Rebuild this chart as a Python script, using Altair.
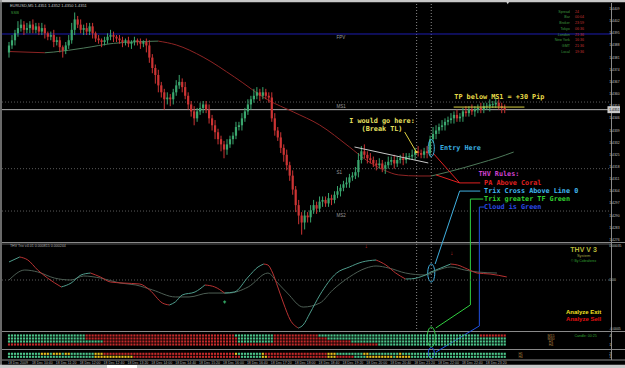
import altair as alt
import pandas as pd

# ============================ DATA ============================
first_open = 1.4384
closes = [
    1.4388, 1.4391, 1.4395, 1.4398, 1.4400, 1.4397, 1.4398, 1.4400, 1.4397, 1.4399,
    1.4396, 1.4398, 1.4395, 1.4393, 1.4394, 1.4390, 1.4391, 1.4387, 1.4385, 1.4388,
    1.4391, 1.4397, 1.4403, 1.4400, 1.4397, 1.4398, 1.4396, 1.4399, 1.4395, 1.4392,
    1.4391, 1.4390, 1.4391, 1.4393, 1.4394, 1.4393, 1.4392, 1.4391, 1.4390, 1.4391,
    1.4389, 1.4390, 1.4391, 1.4390, 1.4389, 1.4390, 1.4388, 1.4381, 1.4375, 1.4371,
    1.4365, 1.4361, 1.4357, 1.4358, 1.4357, 1.4361, 1.4365, 1.4367, 1.4364, 1.4359,
    1.4354, 1.4350, 1.4346, 1.4350, 1.4352, 1.4354, 1.4351, 1.4346, 1.4342, 1.4338,
    1.4334, 1.4331, 1.4328, 1.4331, 1.4334, 1.4336, 1.4341, 1.4342, 1.4346, 1.4350,
    1.4354, 1.4357, 1.4359, 1.4361, 1.4359, 1.4361, 1.4359, 1.4358, 1.4346, 1.4339,
    1.4335, 1.4329, 1.4325, 1.4319, 1.4313, 1.4305, 1.4296, 1.4290, 1.4286, 1.4290,
    1.4289, 1.4293, 1.4296, 1.4294, 1.4298, 1.4299, 1.4297, 1.4300, 1.4299, 1.4302,
    1.4304, 1.4306, 1.4308, 1.4309, 1.4312, 1.4313, 1.4315, 1.4322, 1.4327, 1.4325,
    1.4323, 1.4322, 1.4320, 1.4319, 1.4320, 1.4317, 1.4319, 1.4321, 1.4322, 1.4320,
    1.4322, 1.4323, 1.4322, 1.4324, 1.4324, 1.4325, 1.4327, 1.4326, 1.4325, 1.4327,
    1.4326, 1.4334, 1.4337, 1.4339, 1.4341, 1.4342, 1.4344, 1.4345, 1.4346, 1.4348,
    1.4346, 1.4347, 1.4350, 1.4349, 1.4351, 1.4350, 1.4351, 1.4352, 1.4351, 1.4353,
    1.4353, 1.4354, 1.4354, 1.4355, 1.4353, 1.4352, 1.4351,
]
wick_up = [  # pips above body
    2, 3, 2, 4, 3, 2, 3, 2, 3, 2,  2, 3, 2, 1, 2, 3, 2, 2, 1, 2,
    3, 4, 4, 2, 3, 2, 3, 2, 2, 1,  2, 1, 2, 2, 3, 2, 1, 2, 2, 1,
    2, 1, 2, 1, 2, 1, 2, 3, 2, 2,  3, 2, 2, 3, 2, 2, 3, 4, 2, 3,
    2, 2, 3, 2, 3, 2, 2, 3, 2, 3,  2, 2, 2, 3, 2, 2, 3, 2, 3, 2,
    3, 2, 4, 3, 2, 3, 2, 2, 3, 3,  2, 3, 2, 3, 2, 3, 2, 3, 2, 3,
    2, 3, 3, 2, 3, 2, 2, 3, 2, 2,  3, 2, 2, 3, 2, 2, 3, 4, 3, 4,
    2, 3, 2, 2, 3, 2, 2, 3, 2, 3,  2, 2, 3, 2, 2, 3, 2, 3, 2, 2,
    3, 2, 4, 3, 2, 3, 2, 2, 3, 2,  3, 2, 2, 3, 2, 3, 2, 2, 3, 2,
    2, 3, 2, 3, 2, 2, 2,
]
wick_dn = [  # pips below body
    3, 2, 3, 2, 2, 3, 2, 3, 2, 2,  2, 2, 3, 2, 2, 3, 2, 3, 4, 2,
    2, 2, 3, 2, 2, 3, 2, 2, 3, 2,  2, 3, 2, 2, 2, 3, 2, 2, 3, 2,
    2, 3, 2, 2, 3, 2, 4, 3, 3, 5,  4, 3, 6, 3, 4, 3, 2, 2, 3, 2,
    3, 3, 4, 2, 2, 3, 2, 3, 3, 4,  3, 4, 5, 3, 2, 3, 2, 2, 3, 2,
    2, 3, 2, 2, 3, 2, 2, 3, 2, 3,  2, 3, 4, 3, 3, 3, 4, 5, 7, 4,
    3, 3, 2, 3, 2, 3, 2, 2, 3, 2,  2, 3, 2, 2, 3, 2, 2, 3, 2, 2,
    3, 2, 2, 3, 2, 2, 3, 2, 2, 3,  2, 2, 3, 2, 2, 2, 3, 2, 2, 2,
    3, 2, 2, 3, 2, 2, 3, 2, 2, 3,  2, 2, 3, 2, 2, 2, 3, 2, 2, 2,
    2, 3, 2, 2, 2, 3, 2,
]

# coral moving average (vertices)
ma_bars = [0, 12, 15, 25, 35, 50, 56, 65, 75.5, 86.7, 95.2, 104, 114, 119.6, 125.5,
           130.5, 137, 141.4, 147, 157.8, 163.4, 169]
ma_vals = [1.43845, 1.43838, 1.43842, 1.43865, 1.43892, 1.43905, 1.43883, 1.43813,
           1.43698, 1.43566, 1.43497, 1.43422, 1.43295, 1.43220, 1.43163, 1.43134,
           1.43128, 1.43128, 1.43151, 1.43203, 1.43232, 1.43266]

# THV Trix (x1e-4) and its signal line
trix_bars = [0, 3.6, 6.3, 9.6, 12.9, 17.5, 20.8, 24.1, 27.3, 30.6, 33.9, 38.2, 43.8, 47.1,
             51.4, 53.7, 55.7, 58, 62.3, 65.6, 68.9, 72.2, 75.5, 80.1, 83.4, 85.3, 86.7,
             88.3, 90, 91.9, 94.2, 96.9, 98.5, 100.8, 104.1, 109.7, 114, 118.3, 122.9,
             126.2, 129.5, 132.8, 134.8, 139.4, 141.4, 144.6, 147.9, 150.2, 153.5, 156.8,
             161.1, 166.7]
trix_vals = [1.84, 2.35, 2.04, 1.02, 0.20, -0.71, -0.31, 0.51, 0.71, 0.31, -0.20, -0.31,
             -0.41, -1.02, -2.35, -2.55, -2.24, -1.53, -1.22, -0.51, -0.71, -1.33, -1.22,
             0.31, 1.33, 1.63, 1.53, 0.71, -0.71, -2.35, -4.08, -4.90, -4.59, -3.37, -1.53,
             0.71, 1.33, 1.84, 2.04, 1.53, 0.71, 0.10, 0.12, 0.51, 0.82, 1.22, 1.63, 1.53,
             1.12, 0.71, 0.61, 0.31]
sig_bars = [0, 5.3, 9.6, 15.2, 20.8, 25, 30.6, 37.2, 42.5, 48.1, 55.7, 60.3, 66.9, 73.5,
            80.1, 86.7, 90, 93.2, 98.5, 104.1, 108.4, 114, 119.6, 122.9, 127.2, 132.8,
            139.4, 143.7, 147.9, 152.6, 156.8, 163.4]
sig_vals = [0, 1.02, 0.82, 0.20, 0, 0.41, 0.20, -0.31, -0.51, -1.02, -1.73, -1.73, -1.33,
            -1.33, -0.71, 0.71, -0.31, -1.33, -2.76, -2.35, -1.02, 0.31, 1.22, 1.43, 1.22,
            0.71, 0.51, 1.02, 1.33, 1.02, 0.82, 0.71]

time_labels = ["18 Dec 2009", "18 Dec 10:40", "18 Dec 11:20", "18 Dec 12:00",
               "18 Dec 12:40", "18 Dec 13:20", "18 Dec 14:00", "18 Dec 14:40",
               "18 Dec 15:20", "18 Dec 16:00", "18 Dec 16:40", "18 Dec 17:20",
               "18 Dec 18:00", "18 Dec 18:40", "18 Dec 19:20", "18 Dec 20:00",
               "18 Dec 20:40", "18 Dec 21:20", "18 Dec 22:00", "18 Dec 22:40",
               "18 Dec 23:20"]
price_ticks = [1.4409, 1.4402, 1.4395, 1.4388, 1.4381, 1.4374, 1.4367, 1.4360, 1.4353,
               1.4346, 1.4339, 1.4332, 1.4325, 1.4318, 1.4311, 1.4304, 1.4297, 1.4290,
               1.4283, 1.4276]
trix_ticks = [0.000347, 0.0, -0.0005]
trix_tick_labels = ["0.00035", "0.00", "-0.0005"]

# signal grids (run-length: colour code, number of bars)
grid1_rows = [
    [("g", 26), ("r", 50), ("g", 13), ("r", 15), ("g", 54), ("r", 9)],
    [("g", 26), ("r", 51), ("g", 12), ("r", 18), ("g", 60)],
    [("g", 32), ("r", 45), ("g", 12), ("r", 26), ("g", 52)],
    [("r", 124), ("g", 43)],
]
grid2_rows = [
    [("g", 11), ("y", 3), ("g", 1), ("y", 3), ("g", 1), ("y", 2), ("g", 8), ("y", 3),
     ("r", 44), ("y", 1), ("g", 8), ("y", 1), ("r", 21), ("y", 3), ("g", 9), ("y", 2),
     ("g", 10), ("y", 1), ("g", 35)],
    [("g", 29), ("y", 13), ("r", 36), ("g", 7), ("y", 2), ("r", 20), ("y", 3), ("r", 6),
     ("g", 4), ("y", 9), ("g", 1), ("y", 5), ("g", 32)],
]

pivot_names = ["FPV", "MS1", "S1", "MS2"]
pivot_prices = [1.43946, 1.43554, 1.43170, 1.42926]
event_bars = [136.5, 141.4]

info_names = ["Spread", "Bar", "Broker", "Tokyo", "London", "New York", "GMT", "Local"]
info_values = ["24", "00:04", "23:59", "06:36", "21:36", "16:36", "21:36", "19:36"]

# ============================ SCALES ============================
XS = alt.Scale(domain=[0, 204.6], range=[4, 625], zero=False, nice=False)
PY = alt.Scale(domain=[1.4276, 1.4409], range=[239.85, 9], zero=False, nice=False)
TY = alt.Scale(domain=[-0.0005, 0.0003], range=[329, 250.6], zero=False, nice=False)
G1 = alt.Scale(domain=[0, 5], range=[332.5, 347.5], zero=False, nice=False)
G2 = alt.Scale(domain=[0, 3], range=[350.8, 359.8], zero=False, nice=False)

BULL, BEAR = "#3aa66e", "#cc3434"


def X(field="bar"):
    return alt.X(f"{field}:Q", scale=XS, axis=None)


def Y(field, sc):
    return alt.Y(f"{field}:Q", scale=sc, axis=None)


layers = []

# ---------------- frame & separators ----------------
frame = pd.DataFrame({"k": [0]})
def hline(y, x1, x2, color, dash=None, w=1):
    kw = dict(color=color, strokeWidth=w)
    if dash:
        kw["strokeDash"] = dash
    return alt.Chart(frame).mark_rule(**kw).encode(
        y=alt.value(y), x=alt.value(x1), x2=alt.value(x2))

def vline(x, y1, y2, color, w=1):
    return alt.Chart(frame).mark_rule(color=color, strokeWidth=w).encode(
        x=alt.value(x), y=alt.value(y1), y2=alt.value(y2))

layers += [
    hline(1, 0, 625, "#c8c8c8", w=2.5),
    vline(1, 0, 368, "#8c8c8c", w=1.5),
    hline(242.5, 2, 625, "#8a8a8a"),
    hline(244.0, 2, 611, "#5a5a5a"),
    hline(331.5, 2, 625, "#8a8a8a"),
    hline(349.5, 2, 625, "#8a8a8a"),
    hline(360.0, 2, 625, "#8a8a8a"),
    vline(611.5, 3, 360, "#8a8a8a"),
    hline(366.5, 0, 625, "#c8c8c8", w=3.5),
]

# ---------------- event verticals ----------------
ev = pd.DataFrame({"bar": event_bars})
layers.append(alt.Chart(ev).mark_rule(color="#8a8a8a", strokeDash=[1, 2], strokeWidth=1).encode(
    x=X(), y=alt.value(4), y2=alt.value(331)))

# ---------------- pivot levels ----------------
piv = pd.DataFrame({"name": pivot_names, "price": pivot_prices})
layers.append(alt.Chart(piv[piv.name == "FPV"]).mark_rule(color="#1d1db0", strokeWidth=1).encode(
    y=Y("price", PY), x=alt.value(2), x2=alt.value(611)))
layers.append(alt.Chart(piv[piv.name != "FPV"]).mark_rule(color="#5a5a5a", strokeDash=[1, 2],
                                                         strokeWidth=1).encode(
    y=Y("price", PY), x=alt.value(2), x2=alt.value(611)))
layers.append(alt.Chart(piv).mark_text(align="left", baseline="top", dy=1.5, fontSize=4.5,
                                       font="Liberation Sans", color="#9a9a9a").encode(
    x=alt.X("lx:Q", scale=XS, axis=None), y=Y("price", PY), text="name:N"
).transform_calculate(lx="109.7"))

# bid line
bid = pd.DataFrame({"price": [closes[-1]]})
layers.append(alt.Chart(bid).mark_rule(color="#b4b4b4", strokeWidth=1).encode(
    y=Y("price", PY), x=alt.value(2), x2=alt.value(611)))

# ---------------- moving average (coloured by direction) ----------------
def dir_runs(bars, vals, up_col, dn_col, scale_mult=1.0):
    rows = []
    run = 0
    prev_dir = None
    for k in range(len(bars) - 1):
        d = "up" if vals[k + 1] > vals[k] else "dn"
        if d != prev_dir:
            run += 1
            prev_dir = d
            rows.append({"run": run, "bar": bars[k], "v": vals[k] * scale_mult,
                         "c": up_col if d == "up" else dn_col})
        rows.append({"run": run, "bar": bars[k + 1], "v": vals[k + 1] * scale_mult,
                     "c": up_col if d == "up" else dn_col})
    return pd.DataFrame(rows)

ma_df = dir_runs(ma_bars, ma_vals, "#4e7a5a", "#8e2424")
layers.append(alt.Chart(ma_df).mark_line(interpolate="monotone", strokeWidth=1).encode(
    x=X(), y=Y("v", PY), detail="run:N", color=alt.Color("c:N", scale=None)))

# ---------------- candles ----------------
opens = [first_open] + closes[:-1]
cd = pd.DataFrame({
    "bar": list(range(len(closes))),
    "open": opens,
    "close": closes,
    "high": [max(o, c) + u * 0.0001 for o, c, u in zip(opens, closes, wick_up)],
    "low": [min(o, c) - d * 0.0001 for o, c, d in zip(opens, closes, wick_dn)],
})
cd["col"] = [BULL if c >= o else BEAR for o, c in zip(cd.open, cd.close)]
layers.append(alt.Chart(cd).mark_rule(strokeWidth=1).encode(
    x=X(), y=Y("low", PY), y2="high:Q", color=alt.Color("col:N", scale=None)))
layers.append(alt.Chart(cd).mark_bar(size=2.2).encode(
    x=X(), y=Y("open", PY), y2="close:Q", color=alt.Color("col:N", scale=None)))
doji = cd[cd.open == cd.close]
if len(doji):
    layers.append(alt.Chart(doji).mark_tick(thickness=1, size=2.5, orient="horizontal").encode(
        x=X(), y=Y("close", PY), color=alt.Color("col:N", scale=None)))

# ---------------- annotation lines (main price scale) ----------------
seg = pd.DataFrame([
    # x1, p1, x2, p2, colour
    (132.5, 1.43381, 136.4, 1.43266, "#e0d040"),
    (115.7, 1.43295, 140.4, 1.43203, "#c8c8c8"),
    (142.0, 1.43260, 150.9, 1.43088, "#e02020"),
    (143.0, 1.43134, 150.9, 1.43088, "#e02020"),
    (150.9, 1.43088, 157.8, 1.43088, "#e02020"),
    (150.9, 1.43041, 157.8, 1.43041, "#40b0e0"),
    (150.9, 1.43041, 142.7, 1.42621, "#40b0e0"),
    (154.5, 1.42995, 158.8, 1.42995, "#30d040"),
    (154.5, 1.42995, 154.5, 1.42385, "#30d040"),
    (154.5, 1.42385, 142.9, 1.42252, "#30d040"),
    (157.5, 1.42949, 159.1, 1.42949, "#2050e0"),
    (157.5, 1.42949, 157.5, 1.42264, "#2050e0"),
    (157.5, 1.42264, 143.0, 1.42114, "#2050e0"),
    (148.9, 1.43525, 172.6, 1.43525, "#d8d040"),
], columns=["x1", "p1", "x2", "p2", "c"])
layers.append(alt.Chart(seg).mark_rule(strokeWidth=1, clip=False).encode(
    x=alt.X("x1:Q", scale=XS, axis=None), x2="x2:Q",
    y=Y("p1", PY), y2="p2:Q", color=alt.Color("c:N", scale=None)))

dot = pd.DataFrame({"bar": [136.4], "p": [1.43266]})
layers.append(alt.Chart(dot).mark_circle(size=7, color="#e0d040", opacity=1).encode(
    x=X(), y=Y("p", PY)))

# ellipses (custom symbol paths)
def ellipse_path(rx):
    k = 0.5523
    kx = k * rx
    return (f"M 0 -1 C {kx:.3f} -1 {rx:.3f} {-k:.3f} {rx:.3f} 0 "
            f"C {rx:.3f} {k:.3f} {kx:.3f} 1 0 1 "
            f"C {-kx:.3f} 1 {-rx:.3f} {k:.3f} {-rx:.3f} 0 "
            f"C {-rx:.3f} {-k:.3f} {-kx:.3f} -1 0 -1 Z")

ells = [
    (141.4, 1.43289, 0.36, 289, "#40b0e0"),
    (141.4, 1.42569, 0.39, 324, "#40b0e0"),
    (141.4, 1.42200, 0.40, 400, "#30d040"),
    (141.4, 1.42108, 0.55, 121, "#2050e0"),
]
for b, p, rx, sz, c in ells:
    layers.append(alt.Chart(pd.DataFrame({"bar": [b], "p": [p]})).mark_point(
        shape=ellipse_path(rx), size=sz, filled=False, strokeWidth=1, color=c,
        opacity=1, clip=False).encode(x=X(), y=Y("p", PY)))

# ---------------- main annotation texts ----------------
ann = pd.DataFrame([
    (164.2, 1.43583, "TP below MS1 = +30 Pip", "#e8dc48", "center"),
    (124.9, 1.43445, "I would go here:", "#e8e060", "center"),
    (124.9, 1.43396, "(Break TL)", "#e8e060", "center"),
    (144.3, 1.43289, "Entry Here", "#3ab0e0", "left"),
    (157.2, 1.43139, "THV Rules:", "#d040d0", "left"),
    (159.1, 1.43088, "PA Above Coral", "#e02020", "left"),
    (159.1, 1.43041, "Trix Cross Above Line 0", "#40b8f0", "left"),
    (159.1, 1.42995, "Trix greater TF Green", "#30d030", "left"),
    (159.1, 1.42949, "Cloud is Green", "#2a4ae8", "left"),
], columns=["bar", "p", "t", "c", "a"])
for a in ["center", "left"]:
    layers.append(alt.Chart(ann[ann.a == a]).mark_text(
        align=a, baseline="middle", font="DejaVu Sans Mono", fontWeight="bold",
        fontSize=6.8).encode(x=X(), y=Y("p", PY), text="t:N",
                             color=alt.Color("c:N", scale=None)))

# header texts
hdr = pd.DataFrame([
    (0.3, 1.44107, "EURUSD,M5  1.4351 1.4352 1.4350 1.4351", "#c8c8c8"),
    (0.6, 1.44067, "SSB", "#3a9a3a"),
], columns=["bar", "p", "t", "c"])
layers.append(alt.Chart(hdr).mark_text(align="left", baseline="middle", fontSize=4,
                                       font="Liberation Sans").encode(
    x=X(), y=Y("p", PY), text="t:N", color=alt.Color("c:N", scale=None)))

# info panel
info_p = [1.440744, 1.440422, 1.440076, 1.439748, 1.439419, 1.439097, 1.438768, 1.438440]
info = pd.DataFrame({"p": info_p, "n": info_names, "v": info_values})
layers.append(alt.Chart(info).mark_text(align="right", baseline="middle", fontSize=3.6,
                                        font="Liberation Sans", color="#3f9a3f").encode(
    x=alt.X("lx:Q", scale=XS, axis=None), y=Y("p", PY), text="n:N"
).transform_calculate(lx="187.8"))
layers.append(alt.Chart(info).mark_text(align="left", baseline="middle", fontSize=3.6,
                                        font="Liberation Sans", color="#c83232").encode(
    x=alt.X("lx:Q", scale=XS, axis=None), y=Y("p", PY), text="v:N"
).transform_calculate(lx="189.5"))

# top marker
layers.append(alt.Chart(pd.DataFrame({"bar": [167.0], "p": [1.44125]})).mark_point(
    shape="triangle-down", size=8, filled=True, color="#d0d0d0", opacity=1, clip=False
).encode(x=X(), y=Y("p", PY)))

# ---------------- price axis ----------------
pt = pd.DataFrame({"p": price_ticks, "t": [f"{v:.4f}" for v in price_ticks]})
layers.append(alt.Chart(pt).mark_text(align="left", baseline="middle", fontSize=3.4,
                                      font="Liberation Sans", color="#c0c0c0").encode(
    x=alt.X("lx:Q", scale=XS, axis=None), y=Y("p", PY), text="t:N"
).transform_calculate(lx="201.0"))
bidbox = pd.DataFrame({"x1": [200.4], "x2": [204.6], "p1": [closes[-1] + 0.0002],
                       "p2": [closes[-1] - 0.0002], "p": [closes[-1]],
                       "t": [f"{closes[-1]:.4f}"]})
layers.append(alt.Chart(bidbox).mark_rect(color="#c8c8c8").encode(
    x=alt.X("x1:Q", scale=XS, axis=None), x2="x2:Q", y=Y("p1", PY), y2="p2:Q"))
layers.append(alt.Chart(bidbox).mark_text(align="left", baseline="middle", fontSize=3.4,
                                          font="Liberation Sans", color="#000000").encode(
    x=alt.X("lx:Q", scale=XS, axis=None), y=Y("p", PY), text="t:N"
).transform_calculate(lx="201.0"))

# ---------------- indicator panel ----------------
zero = pd.DataFrame({"v": [0.0]})
layers.append(alt.Chart(zero).mark_rule(color="#5a5a5a", strokeDash=[1, 2]).encode(
    y=Y("v", TY), x=alt.value(2), x2=alt.value(611)))

sig_df = pd.DataFrame({"bar": sig_bars, "v": [s * 1e-4 for s in sig_vals]})
layers.append(alt.Chart(sig_df).mark_line(interpolate="monotone", strokeWidth=1,
                                          color="#4d5e54").encode(x=X(), y=Y("v", TY)))
trix_df = dir_runs(trix_bars, trix_vals, "#4f9c8c", "#b83232", 1e-4)
layers.append(alt.Chart(trix_df).mark_line(interpolate="monotone", strokeWidth=1).encode(
    x=X(), y=Y("v", TY), detail="run:N", color=alt.Color("c:N", scale=None)))

arrows = pd.DataFrame({"bar": [119.6, 148.3], "v": [0.000347, 0.000276]})
layers.append(alt.Chart(arrows).mark_text(text="↓", fontSize=6, fontWeight="bold",
                                          color="#d03030", baseline="middle").encode(
    x=X(), y=Y("v", TY)))
layers.append(alt.Chart(pd.DataFrame({"bar": [72.2], "v": [-0.000224]})).mark_point(
    shape="cross", size=9, filled=True, color="#30a060", opacity=1).encode(
    x=X(), y=Y("v", TY)))

ind_txt = pd.DataFrame([
    (0.3, 0.000347, "THV Trix v4.01 0.000815 0.000244", "#b0b0b0", 3.6, "normal", "left"),
    (192.4, 0.000306, "THV V 3", "#b8b838", 7, "bold", "center"),
    (192.4, 0.000245, "System", "#a0a040", 4, "normal", "center"),
    (192.4, 0.000194, "© By Cobraforex", "#30a030", 3.4, "normal", "center"),
    (192.4, -0.000327, "Analyze Exit", "#f0e020", 6, "bold", "center"),
    (192.4, -0.000398, "Analyze Sell", "#e01010", 6, "bold", "center"),
], columns=["bar", "v", "t", "c", "s", "w", "a"])
for _, r in ind_txt.iterrows():
    layers.append(alt.Chart(pd.DataFrame([r])).mark_text(
        align=r.a, baseline="middle", fontSize=float(r.s), fontWeight=r.w,
        font="Liberation Sans", color=r.c).encode(x=X(), y=Y("v", TY), text="t:N"))

tt = pd.DataFrame({"v": trix_ticks, "t": trix_tick_labels})
layers.append(alt.Chart(tt).mark_text(align="left", baseline="middle", fontSize=3.4,
                                      font="Liberation Sans", color="#c0c0c0").encode(
    x=alt.X("lx:Q", scale=XS, axis=None), y=Y("v", TY), text="t:N"
).transform_calculate(lx="201.0"))

# ---------------- signal grids ----------------
GC = {"g": "#4cc489", "r": "#c42a2a", "y": "#e8c020"}

def expand(rows_runs):
    out = []
    for ri, runs in enumerate(rows_runs, start=1):
        b = 0
        for code, n in runs:
            for _ in range(n):
                out.append({"bar": b, "row": ri, "c": GC[code]})
                b += 1
    return pd.DataFrame(out)

g1 = expand(grid1_rows)
g2 = expand(grid2_rows)
layers.append(alt.Chart(g1).mark_square(size=4.6, opacity=1).encode(
    x=X(), y=Y("row", G1), color=alt.Color("c:N", scale=None)))
layers.append(alt.Chart(g2).mark_square(size=4.6, opacity=1).encode(
    x=X(), y=Y("row", G2), color=alt.Color("c:N", scale=None)))

g1txt = pd.DataFrame([
    (193.1, 1, "Candle: 00:25", "#30a030", "center"),
    (181.5, 1, "M15", "#b08040", "center"),
    (181.5, 2, "M30", "#b08040", "center"),
    (181.5, 3, "H1", "#b08040", "center"),
    (181.5, 4, "H4", "#b08040", "center"),
    (201.0, 1, "4", "#c0c0c0", "left"),
    (201.0, 4, "1", "#c0c0c0", "left"),
], columns=["bar", "row", "t", "c", "a"])
for a in ["center", "left"]:
    layers.append(alt.Chart(g1txt[g1txt.a == a]).mark_text(
        align=a, baseline="middle", fontSize=3.6, font="Liberation Sans").encode(
        x=X(), y=Y("row", G1), text="t:N", color=alt.Color("c:N", scale=None)))
g2txt = pd.DataFrame([
    (171.3, 1, "H1", "#b08040", "center"),
    (171.3, 2, "H4", "#b08040", "center"),
    (201.0, 1, "2", "#c0c0c0", "left"),
    (201.0, 2, "1", "#c0c0c0", "left"),
], columns=["bar", "row", "t", "c", "a"])
for a in ["center", "left"]:
    layers.append(alt.Chart(g2txt[g2txt.a == a]).mark_text(
        align=a, baseline="middle", fontSize=3.4, font="Liberation Sans").encode(
        x=X(), y=Y("row", G2), text="t:N", color=alt.Color("c:N", scale=None)))

# ---------------- time axis ----------------
tl = pd.DataFrame({"bar": [8 * k for k in range(len(time_labels))], "t": time_labels})
layers.append(alt.Chart(tl).mark_text(align="left", baseline="middle", fontSize=3.5, dx=-1,
                                      font="Liberation Sans", color="#b4b4b4").encode(
    x=X(), y=alt.value(363), text="t:N"))

# scrollbar thumb
layers.append(alt.Chart(frame).mark_rect(color="#ffffff").encode(
    x=alt.value(107), x2=alt.value(137), y=alt.value(365), y2=alt.value(368)))

chart = alt.layer(*layers).resolve_scale(y="independent").properties(
    width=625, height=368, padding=0, background="#000000",
    autosize=alt.AutoSizeParams(type="none"),
).configure_view(strokeWidth=0)

chart.save("out.html", embed_options={"renderer": "svg", "actions": False})
